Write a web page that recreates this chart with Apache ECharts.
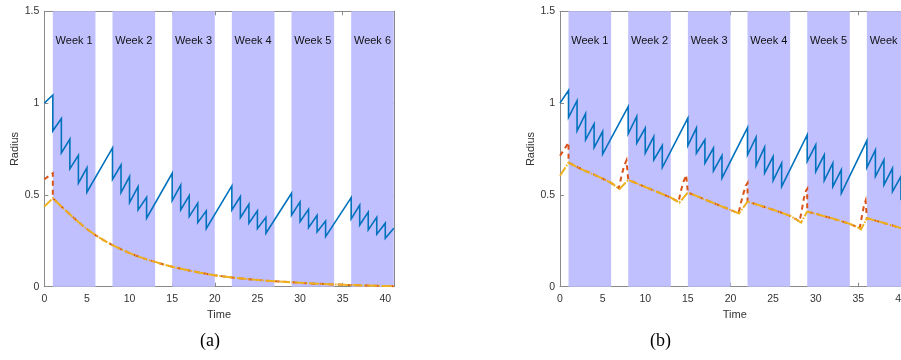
<!DOCTYPE html>
<html><head><meta charset="utf-8">
<script src="https://cdn.jsdelivr.net/npm/echarts@6/dist/echarts.min.js"></script>
<style>html,body{margin:0;padding:0;background:#fff}#c{width:901px;height:360px}</style>
</head><body><div id="c"></div>
<script>
// ---- data ----
const weekStart = [1, 8, 15, 22, 29, 36];
const weekEnd = [6, 13, 20, 27, 34, 41];
const weekLabels = ['Week 1', 'Week 2', 'Week 3', 'Week 4', 'Week 5', 'Week 6'];
const xTicks = [0, 5, 10, 15, 20, 25, 30, 35, 40];
const yTicks = [0, 0.5, 1, 1.5];

// (a) tumour radius (blue)
const blueA = [[0,1.0],[1,1.044],[1,0.849],[2,0.916],[2,0.729],[3,0.804],[3,0.642],[4,0.716],[4,0.564],[5,0.647],[5,0.515],
 [8,0.756],[8,0.585],[9,0.663],[9,0.513],[10,0.600],[10,0.458],[11,0.545],[11,0.418],[12,0.487],[12,0.373],
 [15,0.618],[15,0.469],[16,0.553],[16,0.418],[17,0.496],[17,0.382],[18,0.455],[18,0.349],[19,0.413],[19,0.316],
 [22,0.549],[22,0.418],[23,0.491],[23,0.376],[24,0.449],[24,0.346],[25,0.413],[25,0.316],[26,0.378],[26,0.291],
 [29,0.509],[29,0.389],[30,0.462],[30,0.354],[31,0.422],[31,0.322],[32,0.389],[32,0.298],[33,0.358],[33,0.273],
 [36,0.485],[36,0.369],[37,0.444],[37,0.336],[38,0.406],[38,0.309],[39,0.378],[39,0.286],[40,0.346],[40,0.264],[41,0.318]];
// (a) orange dashed
const orangeA = [[0,0.585],[1,0.618],[1,0.482],[2,0.437],[3,0.394],[4,0.352],[5,0.314],[6,0.281],[7,0.252],[8,0.227],[9,0.204],[10,0.183],
 [11,0.165],[12,0.149],[13,0.135],[14,0.121],[15,0.109],[16,0.098],[17,0.088],[18,0.079],[19,0.070],[20,0.062],
 [22,0.050],[24,0.041],[26,0.033],[28,0.027],[30,0.021],[32,0.016],[34,0.012],[36,0.009],[38,0.006],[40,0.004],[41,0.003]];
// (a) yellow dash-dot
const yellowA = [[0,0.436],[1,0.482],[2,0.437],[3,0.394],[4,0.352],[5,0.314],[6,0.281],[7,0.252],[8,0.227],[9,0.204],[10,0.183],
 [11,0.165],[12,0.149],[13,0.135],[14,0.121],[15,0.109],[16,0.098],[17,0.088],[18,0.079],[19,0.070],[20,0.062],
 [22,0.050],[24,0.041],[26,0.033],[28,0.027],[30,0.021],[32,0.016],[34,0.012],[36,0.009],[38,0.006],[40,0.004],[41,0.003]];

// (b) blue
const blueB = [[0,1.0],[1,1.069],[1,0.922],[2,1.013],[2,0.849],[3,0.942],[3,0.800],[4,0.887],[4,0.758],[5,0.845],[5,0.722],
 [8,0.981],[8,0.833],[9,0.927],[9,0.782],[10,0.864],[10,0.727],[11,0.818],[11,0.691],[12,0.769],[12,0.649],
 [15,0.918],[15,0.769],[16,0.864],[16,0.727],[17,0.800],[17,0.673],[18,0.755],[18,0.631],[19,0.714],[19,0.591],
 [22,0.867],[22,0.718],[23,0.814],[23,0.658],[24,0.760],[24,0.618],[25,0.709],[25,0.578],[26,0.673],[26,0.545],
 [29,0.827],[29,0.682],[30,0.773],[30,0.627],[31,0.718],[31,0.578],[32,0.673],[32,0.545],[33,0.636],[33,0.509],
 [36,0.796],[36,0.649],[37,0.745],[37,0.600],[38,0.691],[38,0.554],[39,0.645],[39,0.518],[40,0.600],[40,0.480],[41,0.530]];
// (b) yellow dash-dot
const yellowB = [[0,0.604],[1,0.676],[2,0.652],[3,0.630],[4,0.610],[5,0.589],[6,0.565],[7,0.532],[7.16,0.523],
 [8,0.582],[9,0.563],[10,0.543],[11,0.524],[12,0.505],[13,0.485],[14,0.458],[14.1,0.451],
 [15,0.513],[16,0.494],[17,0.475],[18,0.456],[19,0.437],[20,0.418],[21,0.399],[21.12,0.395],
 [22,0.463],[23,0.449],[24,0.434],[25,0.419],[26,0.403],[27,0.386],[28,0.358],[28.28,0.349],
 [29,0.409],[30,0.397],[31,0.384],[32,0.371],[33,0.357],[34,0.342],[35,0.322],[35.32,0.313],
 [36,0.373],[37,0.360],[38,0.347],[39,0.333],[40,0.320],[41,0.309]];
// (b) orange dashed
const orangeB = [[0,0.713],[1,0.785],[1,0.676],[2,0.652],[3,0.630],[4,0.610],[5,0.589],[6,0.565],[6.9,0.537],[7.2,0.600],[7.5,0.655],[7.8,0.688],[8,0.695],
 [8,0.582],[9,0.563],[10,0.543],[11,0.524],[12,0.505],[13,0.485],[13.9,0.462],[14.2,0.525],[14.5,0.573],[14.8,0.608],[15,0.618],
 [15,0.513],[16,0.494],[17,0.475],[18,0.456],[19,0.437],[20,0.418],[20.95,0.400],[21.2,0.452],[21.5,0.505],[21.8,0.550],[22,0.565],
 [22,0.463],[23,0.449],[24,0.434],[25,0.419],[26,0.403],[27,0.386],[28.1,0.356],[28.35,0.412],[28.6,0.480],[28.85,0.522],[29,0.533],
 [29,0.409],[30,0.397],[31,0.384],[32,0.371],[33,0.357],[34,0.342],[35.15,0.318],[35.4,0.380],[35.65,0.440],[35.85,0.468],[36,0.476],
 [36,0.373],[37,0.360],[38,0.347],[39,0.333],[40,0.320],[41,0.309]];

// ---- chart ----
const FONT = 'Liberation Sans, Arial, Helvetica, sans-serif';
const AX = '#8a8a8a', TXT = '#333333';
const grids = [
  {left: 44.3, top: 11.3, width: 349.5, height: 275.4, containLabel: false, outerBoundsMode: 'none'},
  {left: 560, top: 11.3, width: 349.5, height: 275.4, containLabel: false, outerBoundsMode: 'none'}
];
const xAxes = [], yAxes = [], series = [];
grids.forEach((g, gi) => {
  const base = {type:'value', gridIndex: gi, min: 0, max: 41, interval: 5, splitLine:{show:false},
    axisLine:{show:true, onZero:false, lineStyle:{color:AX, width:1}},
    axisTick:{show:true, inside:true, length:4, lineStyle:{color:AX}}};
  xAxes.push(Object.assign({}, base, {position:'bottom', name:'Time', nameLocation:'middle', nameGap:22,
    nameTextStyle:{fontFamily:FONT, fontSize:11, color:TXT},
    axisLabel:{fontFamily:FONT, fontSize:10.5, color:TXT, margin:7, showMaxLabel:false, hideOverlap:false,
      formatter: v => (xTicks.indexOf(v) >= 0 ? String(v) : '')}}));
  xAxes.push(Object.assign({}, base, {position:'top', axisLabel:{show:false}}));
  const ybase = {type:'value', gridIndex: gi, min: 0, max: 1.5, interval: 0.5, splitLine:{show:false},
    axisLine:{show:true, onZero:false, lineStyle:{color:AX, width:1}},
    axisTick:{show:true, inside:true, length:4, lineStyle:{color:AX}}};
  yAxes.push(Object.assign({}, ybase, {position:'left', name:'Radius', nameLocation:'middle', nameGap:24,
    nameTextStyle:{fontFamily:FONT, fontSize:11, color:TXT},
    axisLabel:{fontFamily:FONT, fontSize:10.5, color:TXT, margin:5,
      formatter: v => (yTicks.indexOf(v) >= 0 ? String(v) : '')}}));
  yAxes.push(Object.assign({}, ybase, {position:'right', axisLabel:{show:false}}));
});

function bandSeries(gi) {
  return {
    type:'line', xAxisIndex: gi*2, yAxisIndex: gi*2, data: [], z: 1, silent: true,
    markArea: {
      silent: true,
      itemStyle: {color: '#c0c0ff', opacity: 1},
      label: {show: true, position: 'insideTop', distance: 24, fontFamily: FONT, fontSize: 11, color: '#111'},
      data: weekStart.map((s, i) => [{xAxis: s, name: weekLabels[i]}, {xAxis: weekEnd[i]}])
    }
  };
}
function lineS(gi, data, color, width, type, z) {
  return {type:'line', xAxisIndex: gi*2, yAxisIndex: gi*2, data: data, showSymbol:false, symbol:'none',
    z: z, silent: true, animation: false,
    lineStyle:{color: color, width: width, type: type, cap:'butt', join:'miter'}};
}
series.push(bandSeries(0), bandSeries(1));
series.push(lineS(0, blueA, '#0072BD', 1.6, 'solid', 3));
series.push(lineS(0, orangeA, '#D95319', 2, [5, 4], 4));
series.push(lineS(0, yellowA, '#EDB120', 2, [10, 1.5, 1.5, 1.5], 5));
series.push(lineS(1, blueB, '#0072BD', 1.6, 'solid', 3));
series.push(lineS(1, orangeB, '#D95319', 2, [5, 4], 4));
series.push(lineS(1, yellowB, '#EDB120', 2, [10, 1.5, 1.5, 1.5], 5));

const chart = echarts.init(document.getElementById('c'), null, {renderer:'canvas'});
chart.setOption({
  animation: false,
  backgroundColor: '#ffffff',
  grid: grids,
  xAxis: xAxes,
  yAxis: yAxes,
  series: series,
  graphic: [
    {type:'text', left: 200, top: 332, style:{text:'(a)', font:'18px "Liberation Serif", "DejaVu Serif", serif', fill:'#000'}},
    {type:'text', left: 650, top: 332, style:{text:'(b)', font:'18px "Liberation Serif", "DejaVu Serif", serif', fill:'#000'}}
  ]
});
</script>
</body></html>
